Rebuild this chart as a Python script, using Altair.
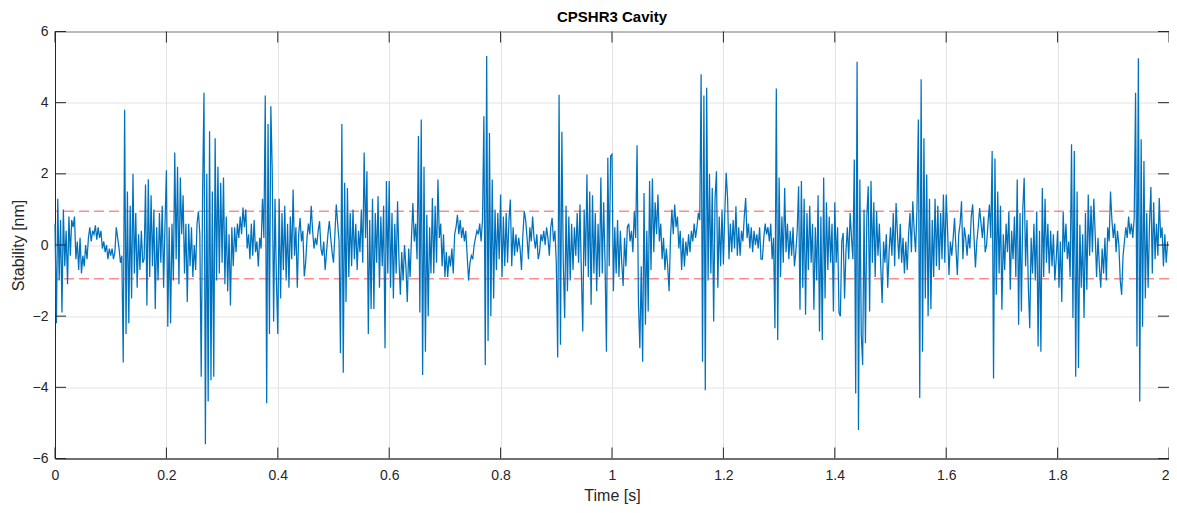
import altair as alt
import pandas as pd

# Signal values, 80 samples per 0.2 s segment (dt = 0.0025 s)
seg1 = [0.6,-2.2,1.3,-1.0, 0.7,-1.9,1.0,-0.6, 0.4,-1.1,0.8,-0.3, 0.7,0.5,0.8,-0.4,
        0.1,-0.7,0.2,-0.8, -0.3,-0.6,0.0,-0.4, 0.2,0.5,0.1,0.4, 0.3,0.55,0.15,0.5,
        0.2,0.4,-0.1,0.1, -0.2,0.0,-0.4,-0.1, -0.3,-0.1,-0.4,-0.2, 0.5,0.2,-0.1,-0.5,
        -0.3,-3.3,3.8,-2.5, 1.5,-2.2,1.1,-1.5, 2.0,-0.8,0.9,-1.2, 0.3,-0.7,0.4,-0.5,
        -0.4,1.7,-1.7,1.85, -0.9,1.4,-0.6,1.0, -1.8,0.5,-1.0,0.9, -0.5,1.1,-1.2,0.6]
seg2 = [2.1,-2.3,0.5,-2.2, 0.6,-1.0,2.6,-0.4, 2.2,-1.1,1.9,0.3, 1.4,-0.8,0.6,-1.6,
        0.6,-0.6,0.5,-0.9, 0.0,-0.7,0.6,0.95, 0.3,-3.7,1.5,4.28, -5.6,2.0,-4.4,3.2,
        -3.8,1.5,-3.7,3.0, -1.0,2.2,-0.8,1.75, -0.5,1.9,-1.1,0.8, -1.3,0.3,-1.7,0.5,
        -0.6,0.5,-0.2,0.6, 0.2,0.8,0.3,1.05, 0.5,1.0,-0.1,0.3, -0.4,0.6,-0.3,0.7,
        -0.2,0.1,-0.6,0.2, -0.1,1.3,0.2,4.2, -4.45,3.4,-2.5,3.9, 2.1,-2.15,1.3,-1.0]
seg3 = [-2.5,1.3,-1.5,0.9, -0.7,1.1,-1.0,0.6, -1.2,0.8,-0.4,1.56, -0.3,0.5,-1.2,0.3,
        0.76,0.1,0.4,-0.88, -0.5,0.2,0.6,0.3, 1.1,0.4,-0.1,0.2, 0.0,0.4,0.67,-0.1,
        -0.3,0.1,-0.7,-0.2, 0.3,0.67,0.2,-0.2, -0.5,0.3,1.14,0.6, 0.1,-3.04,3.4,-3.59,
        1.75,-1.6,1.6,-0.9, 0.9,-0.6,1.0,-0.4, 0.6,-0.7,0.4,-0.2, 1.0,-0.5,2.6,0.2,
        2.07,-2.5,0.7,-1.8, 1.3,-1.8,0.9,-0.5, 1.37,-1.2,0.8,-0.6, 1.1,-2.9,1.8,-0.8]
seg4 = [1.8,-1.2,0.9,-1.5, 0.6,-0.8,1.23,-0.4, -1.4,-0.2,-1.0,0.0, -0.6,-1.6,-0.1,-0.9,
        0.2,1.18,0.1,0.6, -0.4,3.06,-1.9,3.53, -3.65,2.2,-3.0,0.85, -2.0,0.5,-0.8,1.32,
        -0.8,1.1,-0.5,1.84, 0.2,0.6,-0.6,0.3, -0.9,-0.2,-0.9,-0.3, -0.6,-0.1,-0.8,0.3,
        0.5,0.85,0.3,0.7, 0.2,0.5,0.1,0.4, -0.3,-1.0,-0.5,-0.3, -0.4,0.0,0.2,0.4,
        0.3,0.6,0.1,0.7, 3.62,-3.37,5.31,-2.7, 3.15,-2.0,1.84,-1.5, 1.0,-0.7,0.9,-0.4]
seg5 = [1.42,-0.9,0.8,-0.6, 0.9,-0.5,0.7,1.28, -0.6,0.5,-0.3,0.3, -0.2,0.2,-0.1,-0.7,
        0.3,0.95,0.7,0.2, -0.4,0.5,0.1,0.8, 0.2,-0.1,0.3,-0.4, -0.2,0.3,0.1,0.4,
        0.0,0.5,0.2,-0.3, 0.5,0.76,0.1,0.4, -0.5,-3.16,4.22,-2.8, 3.18,-0.5,-2.05,1.1,
        -1.3,0.8,-1.0,0.6, -0.7,0.5,-0.3,0.9, -0.5,1.14,-0.8,-2.43, 1.0,-0.6,1.98,-0.9,
        1.5,-1.68,1.4,-0.8, 0.9,-1.3,0.6,-0.9, 1.9,-0.8,1.2,-0.5, -3.0,2.45,-0.6,2.5]
seg6 = [2.55,-1.3,0.5,-0.8, 0.7,-0.9,0.4,-0.5, -1.15,0.2,-0.6,0.5, 0.6,0.1,0.4,-0.2,
        0.95,0.2,2.8,-1.63, -2.9,-0.6,-3.28,1.46, -2.24,0.4,-1.87,1.8, -0.7,1.87,-0.2,1.2,
        0.3,1.42,0.1,0.6, -0.4,0.2,-0.7,-0.1, -0.6,-1.3,0.2,1.0, 0.3,1.14,0.5,0.8,
        -0.1,0.4,-0.7,0.2, -0.6,0.1,-0.3,0.3, -0.2,0.4,0.1,0.6, 0.2,0.5,0.9,0.7,
        4.8,-3.28,4.2,-4.08, 4.42,-1.0,2.0,-0.8, 1.6,-2.15,1.3,2.07, -1.2,0.8,-0.6,1.0]
seg7 = [-0.55,0.9,2.03,1.32, -0.4,0.6,-0.2,0.7, -0.1,1.09,-0.3,0.5, -0.3,0.4,0.1,0.8,
        1.32,0.2,0.6,-0.1, 0.5,-0.2,0.4,0.0, 0.3,-0.1,0.5,-0.4, -0.4,0.2,0.6,0.3,
        0.5,0.1,0.6,-0.4, 0.2,-2.34,4.4,-2.67, 1.9,-0.9,0.8,-0.5, 1.6,-0.2,0.6,-0.4,
        0.4,-0.3,0.5,-0.6, -0.2,0.4,1.65,-1.82, 1.8,-1.2,1.3,-1.96, 0.9,-0.7,1.1,-0.5,
        0.6,-1.82,0.5,-1.0, 1.4,-2.43,0.8,-2.67, 1.9,-1.5,1.2,-0.7, 0.8,-0.5,0.6,-1.87]
seg8 = [1.2,-0.5,0.5,-1.9, -2.0,0.1,0.34,-1.5, -0.2,0.5,-0.4,0.9, 0.2,-0.4,2.4,-4.17,
        5.15,-5.2,1.84,-2.5, -3.37,1.0,-2.76,0.8, 1.65,-1.87,1.8,-0.5, 1.2,-0.9,0.95,-0.3,
        0.6,-0.6,-1.63,0.1, -0.5,0.3,-1.2,-0.2, 0.5,-0.3,0.9,-0.6, 1.18,0.3,-0.4,0.6,
        -0.5,0.2,-0.8,0.1, -0.7,0.3,0.9,-0.2, 1.23,0.4,-0.2,1.0, 3.53,-4.3,4.66,-3.0,
        3.0,-1.5,1.98,-2.0, 1.3,-1.8,0.7,-0.9, 1.3,-0.6,1.1,-0.7, 0.9,-0.4,1.42,-0.5]
seg9 = [1.42,0.4,-0.84,0.1, -0.3,0.2,0.76,-0.1, -0.84,0.3,0.6,1.23, -0.4,0.5,0.2,-0.3,
        0.3,-0.1,0.8,1.14, 0.2,-0.63,0.1,0.5, 1.04,0.6,0.2,0.8, -0.2,0.0,0.6,1.14,
        0.2,2.64,-3.75,2.43, -1.4,1.5,-0.8,1.1, -1.82,0.3,-0.7,0.6, -0.2,0.95,-1.26,0.4,
        -0.4,0.8,-0.9,1.84, -2.24,0.9,-1.87,1.0, 1.89,-0.6,0.7,-1.2, -2.34,0.2,-0.8,0.6,
        -1.0,0.95,-2.85,0.4, -3.0,1.6,-0.9,1.3, -0.5,0.6,-0.8,0.4, -0.6,0.3,-1.0,-0.4]
seg10 = [0.4,-1.2,0.1,-1.6, 0.93,-0.2,0.6,-0.4, 0.1,-0.9,2.83,-2.05, 2.64,-3.7,1.5,-3.46,
         0.57,-1.2,0.3,-2.05, 0.9,-1.26,1.42,-0.3, 1.1,-0.2,1.3,0.3, -0.9,0.2,-0.6,-1.2,
         -0.1,-0.8,0.2,-1.0, 0.5,0.1,1.5,0.7, 0.2,0.6,-0.2,0.4, 0.0,-1.0,-1.4,-0.3,
         0.1,0.5,0.2,0.8, 0.3,0.6,0.2,0.75, 4.28,-2.85,5.25,-4.4, 2.97,-2.3,2.36,-1.5,
         0.9,-1.2,0.6,1.63, -0.8,1.2,-0.4,0.6, -0.3,1.32,0.2,0.5, -0.6,0.3,-0.5,0.1]

thresholds = [0.945, -0.945]
x_ticks = [0, 0.2, 0.4, 0.6, 0.8, 1.0, 1.2, 1.4, 1.6, 1.8, 2.0]
y_ticks = [-6, -4, -2, 0, 2, 4, 6]

segments = [seg1, seg2, seg3, seg4, seg5, seg6, seg7, seg8, seg9, seg10]
dt = 0.0025
rows = []
for k, seg in enumerate(segments):
    for i, v in enumerate(seg):
        rows.append({"t": round(k * 0.2 + i * dt, 5), "v": v})
df = pd.DataFrame(rows)

W, H = 1114, 427
TL = 11

xs = alt.Scale(domain=[0, 2], nice=False, zero=False)
ys = alt.Scale(domain=[-6, 6], nice=False, zero=False)

line = alt.Chart(df).mark_line(color="#0072BD", strokeWidth=1.25).encode(
    x=alt.X("t:Q", scale=xs, axis=alt.Axis(
        values=x_ticks, format="~g", title="Time [s]",
        labelPadding=10, titlePadding=5, labelFlush=False,
        labelAlign=alt.ExprRef("datum.value >= 2 ? 'right' : 'center'"))),
    y=alt.Y("v:Q", scale=ys, axis=alt.Axis(values=y_ticks, format="~g", title="Stability [nm]",
                                            labelPadding=7, titlePadding=6, labelFlush=False)),
)

thr = alt.Chart(pd.DataFrame({"v": thresholds})).mark_rule(
    color="#ff0000", opacity=0.45, strokeDash=[10, 5], strokeWidth=1.5
).encode(y=alt.Y("v:Q", scale=ys))

xt = pd.DataFrame({"t": x_ticks})
yt = pd.DataFrame({"v": y_ticks})
tick_col = "#262626"
xb = alt.Chart(xt).mark_rule(color=tick_col, strokeWidth=1).encode(
    x=alt.X("t:Q", scale=xs), y=alt.value(H), y2=alt.value(H - TL))
xtop = alt.Chart(xt).mark_rule(color=tick_col, strokeWidth=1).encode(
    x=alt.X("t:Q", scale=xs), y=alt.value(0), y2=alt.value(TL))
yl = alt.Chart(yt).mark_rule(color=tick_col, strokeWidth=1).encode(
    y=alt.Y("v:Q", scale=ys), x=alt.value(0), x2=alt.value(TL))
yr = alt.Chart(yt).mark_rule(color=tick_col, strokeWidth=1).encode(
    y=alt.Y("v:Q", scale=ys), x=alt.value(W), x2=alt.value(W - TL))

chart = alt.layer(thr, line, xb, xtop, yl, yr).properties(
    width=W, height=H,
    title=alt.TitleParams("CPSHR3 Cavity", offset=0),
    autosize=alt.AutoSizeParams(type="none"),
    padding={"left": 47, "top": 23.5, "right": 0, "bottom": 46},
).configure_axis(
    grid=True, gridColor="#e3e3e3", gridWidth=1,
    domainColor=tick_col, domainWidth=1, ticks=False,
    labelFont="Liberation Sans", labelFontSize=14, labelColor=tick_col,
    titleFont="Liberation Sans", titleFontSize=16, titleColor=tick_col,
    titleFontWeight="normal",
).configure_view(
    stroke=tick_col, strokeWidth=1
).configure_title(
    font="Liberation Sans", fontSize=15, fontWeight="bold", color="#000000", anchor="middle"
)

chart.save("out.html", embed_options={"renderer": "svg", "actions": False})
